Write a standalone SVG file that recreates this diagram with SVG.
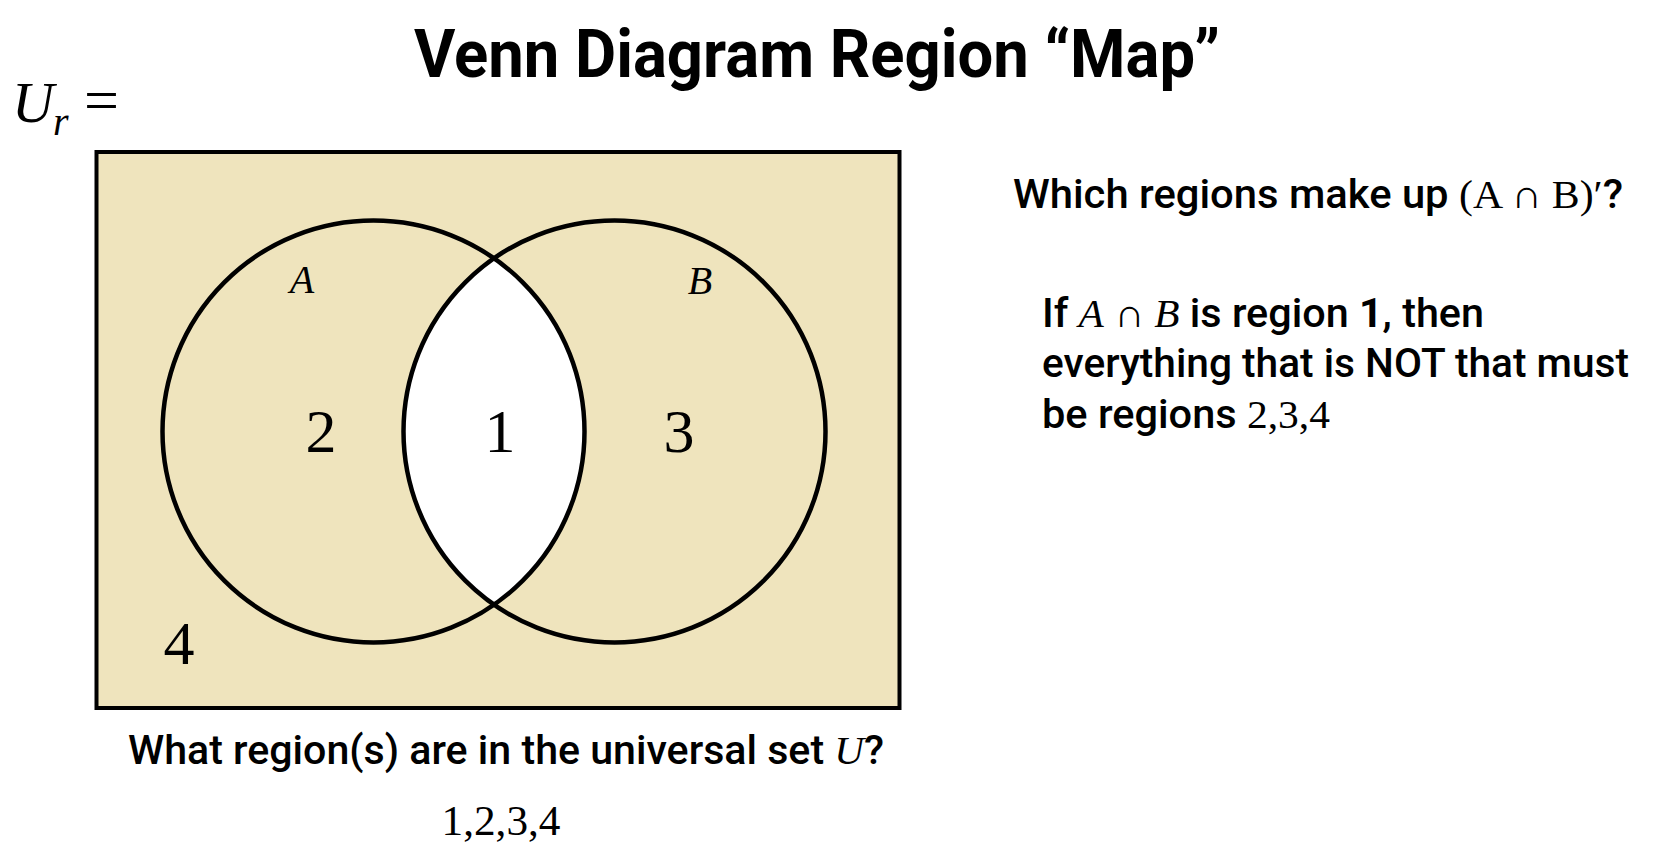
<svg xmlns="http://www.w3.org/2000/svg" width="1664" height="866" viewBox="0 0 1664 866">
<style>
.sans{font-family:Roboto,"Liberation Sans",sans-serif;font-weight:500;fill:#000}
.title{font-family:Roboto,"Liberation Sans",sans-serif;font-weight:700;fill:#000}
.math{font-family:"Liberation Serif","DejaVu Serif",serif;fill:#000}
.it{font-style:italic}
.ring{fill:none;stroke:#000;stroke-width:4.5}
</style>
<rect width="1664" height="866" fill="#fff"/>
<text class="title" x="817" y="77" font-size="66" text-anchor="middle" textLength="806" lengthAdjust="spacingAndGlyphs">Venn Diagram Region “Map”</text>
<g id="ur-label">
<text class="math it" x="12" y="122" font-size="58">U</text>
<text class="math it" x="53" y="135" font-size="40">r</text>
<text class="math" x="84" y="121" font-size="62">=</text>
</g>
<defs>
<clipPath id="clipA"><circle cx="373.5" cy="431.5" r="211"/></clipPath>
</defs>
<g id="universe">
<rect x="96.5" y="152" width="803" height="556" fill="#EFE4BD" stroke="#000" stroke-width="4"/>
</g>
<g id="intersection">
<circle cx="614.5" cy="431.5" r="211" fill="#fff" clip-path="url(#clipA)"/>
</g>
<g id="set-A">
<circle class="ring" cx="373.5" cy="431.5" r="211"/>
<text class="math it" x="302" y="293" font-size="40" text-anchor="middle">A</text>
</g>
<g id="set-B">
<circle class="ring" cx="614.5" cy="431.5" r="211"/>
<text class="math it" x="700" y="294" font-size="40" text-anchor="middle">B</text>
</g>
<g id="region-labels">
<text class="math" x="321" y="452" font-size="62" text-anchor="middle">2</text>
<text class="math" x="500" y="452" font-size="62" text-anchor="middle">1</text>
<text class="math" x="679" y="452" font-size="62" text-anchor="middle">3</text>
<text class="math" x="179" y="664" font-size="62" text-anchor="middle">4</text>
</g>
<g id="question-right">
<text class="sans" x="1013" y="208" font-size="40" textLength="610" lengthAdjust="spacingAndGlyphs">Which regions make up <tspan class="math" font-weight="400">(A ∩ B)′</tspan>?</text>
</g>
<g id="answer-right">
<text class="sans" x="1042" y="327" font-size="40" textLength="442" lengthAdjust="spacingAndGlyphs">If <tspan class="math it" font-weight="400">A</tspan><tspan class="math" font-weight="400"> ∩ </tspan><tspan class="math it" font-weight="400">B</tspan> is region <tspan font-weight="700">1</tspan>, then</text>
<text class="sans" x="1042" y="377" font-size="40" textLength="587" lengthAdjust="spacingAndGlyphs">everything that is NOT that must</text>
<text class="sans" x="1042" y="428" font-size="40" textLength="288" lengthAdjust="spacingAndGlyphs">be regions <tspan class="math" font-weight="400">2,3,4</tspan></text>
</g>
<g id="question-bottom">
<text class="sans" x="128" y="764" font-size="40" textLength="756" lengthAdjust="spacingAndGlyphs">What region(s) are in the universal set <tspan class="math it" font-weight="400">U</tspan>?</text>
<text class="math" x="501" y="835" font-size="42" text-anchor="middle" textLength="119" lengthAdjust="spacingAndGlyphs">1,2,3,4</text>
</g>
</svg>
